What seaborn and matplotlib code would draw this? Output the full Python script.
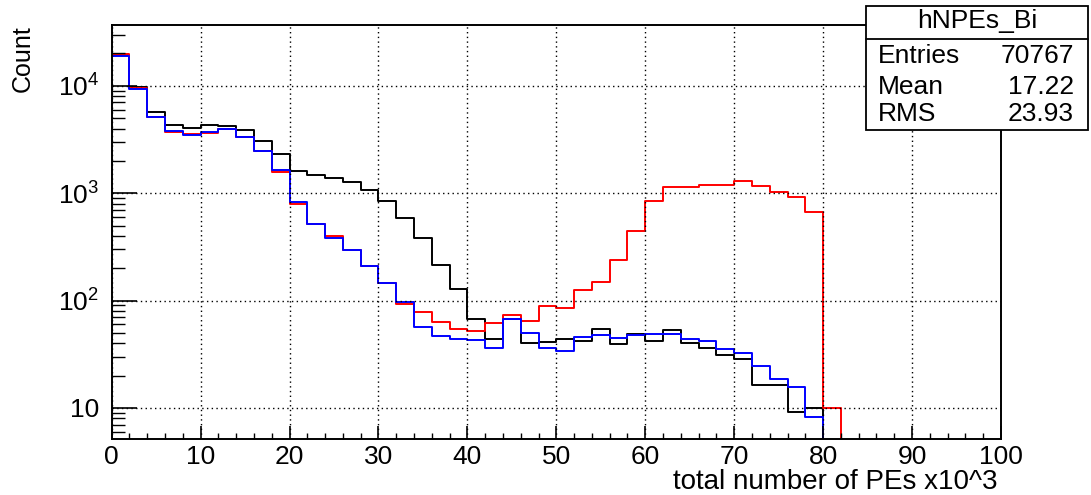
import numpy as np
import matplotlib
matplotlib.use("Agg")
import matplotlib.pyplot as plt
import seaborn as sns
from matplotlib.ticker import FixedLocator, FuncFormatter, LogLocator, NullFormatter, MultipleLocator
from matplotlib.patches import Rectangle
from matplotlib.lines import Line2D

# ---------------- data ----------------
bin_edges = list(range(0, 102, 2))

counts_black = [19300, 9700, 5640, 4360, 4050, 4360, 4260, 3910, 3060, 2330,
                1620, 1490, 1390, 1270, 1070, 848, 593, 386, 213, 128,
                68, 44, 67, 40, 41.5, 44, 42, 54, 39.5, 49,
                42, 53, 40.6, 36.5, 31.2, 28.4, 16.2, 16.2, 9.1, 10,
                0, 0, 0, 0, 0, 0, 0, 0, 0, 0]

counts_red = [19600, 9500, 5130, 3690, 3520, 3610, 3940, 3300, 2450, 1570,
              790, 518, 400, 296, 212, 147, 93, 78, 63, 54,
              52.5, 61.5, 74, 64, 89, 86, 126, 149, 240, 449,
              849, 1150, 1140, 1204, 1195, 1312, 1171, 1029, 918, 665,
              10, 0, 0, 0, 0, 0, 0, 0, 0, 0]

counts_blue = [19060, 9400, 5130, 3800, 3460, 3750, 3940, 3300, 2450, 1630,
               835, 518, 386, 296, 212, 147, 96, 57, 47, 44,
               43, 36, 67.5, 50, 36, 34, 46, 48, 45, 47.5,
               49, 49, 43.6, 41.8, 35.5, 32.3, 24.8, 18.5, 15.8, 8.2,
               0, 0, 0, 0, 0, 0, 0, 0, 0, 0]

x_ticks = [0, 10, 20, 30, 40, 50, 60, 70, 80, 90, 100]
y_ticks = [10, 100, 1000, 10000]

x_label = "total number of PEs x10^3"
y_label = "Count"
stats_title = "hNPEs_Bi"
stats_names = ["Entries", "Mean", "RMS"]
stats_values = ["70767", "17.22", "23.93"]

# ---------------- style ----------------
sns.set_style("white")
plt.rcParams['font.family'] = ['Liberation Sans', 'DejaVu Sans']
plt.rcParams['mathtext.fontset'] = 'custom'
plt.rcParams['mathtext.rm'] = 'Liberation Sans'
plt.rcParams['mathtext.it'] = 'Liberation Sans'
for key in ['text.color', 'axes.labelcolor', 'xtick.color', 'ytick.color', 'axes.edgecolor']:
    plt.rcParams[key] = 'black'

W_PX, H_PX = 1091, 495
fig = plt.figure(figsize=(W_PX / 100, H_PX / 100), dpi=100)
fig.patch.set_facecolor('white')

ax_l, ax_r, ax_t, ax_b = 111.7, 1001.0, 25.0, 439.0
ax = fig.add_axes([ax_l / W_PX, 1 - ax_b / H_PX, (ax_r - ax_l) / W_PX, (ax_b - ax_t) / H_PX])

centers = np.array(bin_edges[:-1]) + 1.0
for counts, color in [(counts_black, 'black'), (counts_red, '#ff0000'), (counts_blue, '#0000ff')]:
    sns.histplot(x=centers, weights=counts, bins=bin_edges, element='step', fill=False,
                 color=color, linewidth=1.4, ax=ax)

ax.set_yscale('log')
ax.set_xlim(0, 100)
ax.set_ylim(10 ** 0.711, 10 ** 4.566)

# ticks
ax.xaxis.set_major_locator(FixedLocator(x_ticks))
ax.xaxis.set_minor_locator(MultipleLocator(2))
ax.yaxis.set_major_locator(FixedLocator(y_ticks))
ax.yaxis.set_minor_locator(LogLocator(base=10, subs=np.arange(2, 10)))
ax.yaxis.set_minor_formatter(NullFormatter())


def yfmt(v, pos):
    e = int(round(np.log10(v)))
    if e == 1:
        return "10"
    return r"$\mathregular{10^{%d}}$" % e


ax.yaxis.set_major_formatter(FuncFormatter(yfmt))
ax.tick_params(axis='x', which='major', direction='in', length=9.2, width=1.2,
               labelsize=19, pad=4, bottom=True, top=False, colors='black')
ax.tick_params(axis='x', which='minor', direction='in', length=4.4, width=1.0,
               bottom=True, top=False, colors='black')
ax.tick_params(axis='y', which='major', direction='in', length=18, width=1.2,
               labelsize=19, pad=9, left=True, right=False, colors='black')
ax.tick_params(axis='y', which='minor', direction='in', length=9.4, width=1.0,
               left=True, right=False, colors='black')

ax.grid(True, which='major', color='black', linestyle=(0, (1, 2.4)), linewidth=1.0)
ax.set_axisbelow(False)
for s in ax.spines.values():
    s.set_visible(True)
    s.set_color('black')
    s.set_linewidth(1.4)

ax.set_xlabel(x_label, fontsize=20, loc='right', color='black')
ax.xaxis.set_label_coords(0.9966, -0.072)
ax.set_ylabel(y_label, fontsize=18, loc='top', color='black')
ax.yaxis.set_label_coords(-0.087, 1.0)

# ---------------- stats box ----------------
def fx(px):
    return px / W_PX


def fy(py):
    return 1 - py / H_PX


box_l, box_r, box_t, box_b, box_sep = 866, 1088, 6, 130, 39
fig.add_artist(Rectangle((fx(box_l), fy(box_b)), fx(box_r) - fx(box_l), fy(box_t) - fy(box_b),
                         transform=fig.transFigure, facecolor='white', edgecolor='black',
                         linewidth=1.3, zorder=10))
fig.add_artist(Line2D([fx(box_l), fx(box_r)], [fy(box_sep), fy(box_sep)],
                      transform=fig.transFigure, color='black', linewidth=1.3, zorder=11))
fig.text(fx(977), fy(28), stats_title, ha='center', va='baseline', fontsize=19,
         color='black', zorder=12)
for name, val, base in zip(stats_names, stats_values, [63, 94, 121]):
    fig.text(fx(878), fy(base), name, ha='left', va='baseline', fontsize=19,
             color='black', zorder=12)
    fig.text(fx(1074), fy(base), val, ha='right', va='baseline', fontsize=19,
             color='black', zorder=12)

fig.savefig("out.png", dpi=100, facecolor='white')
